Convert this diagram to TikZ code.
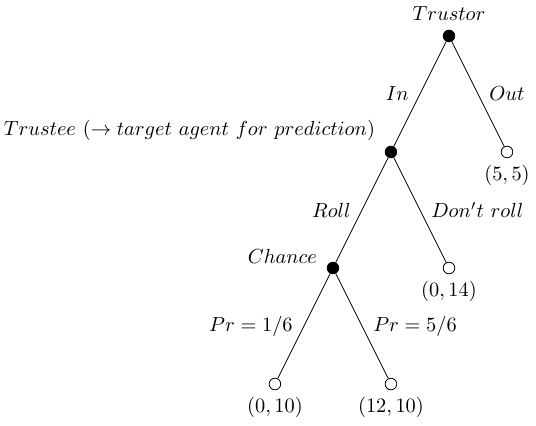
\documentclass[tikz,border=0pt]{standalone}
\begin{document}
\begin{tikzpicture}[x=1cm,y=1cm,
  decision/.style={draw, circle, fill=black, inner sep=0pt, minimum size=0.2cm},
  terminal/.style={draw, circle, fill=white, inner sep=0pt, minimum size=0.2cm},
  every label/.style={inner sep=1pt}]
\useasboundingbox (-7.74,0.62) rectangle (1.50,-6.72);
\node[decision, label={[yshift=3.5pt]above:$Trustor$}] (trustor) at (0,0) {};
\node[decision, label={[xshift=-4.5pt,yshift=2pt]above left:$Trustee\ (\rightarrow target\ agent\ for\ prediction)$}] (trustee) at (-1,-2) {};
\node[terminal, label={[yshift=-2pt]below:$(5,5)$}] (out) at (1,-2) {};
\node[decision, label={[xshift=-4.5pt,yshift=-1pt]above left:$Chance$}] (chance) at (-2,-4) {};
\node[terminal, label={[yshift=-2pt]below:$(0,14)$}] (noroll) at (0,-4) {};
\node[terminal, label={[yshift=-2pt]below:$(0,10)$}] (low) at (-3,-6) {};
\node[terminal, label={[yshift=-2pt]below:$(12,10)$}] (high) at (-1,-6) {};
\draw (trustor) -- node[left, xshift=-2pt] (in) {$In$} (trustee);
\draw (trustor) -- node[right, xshift=2pt] (outlab) {$Out$} (out);
\draw (trustee) -- node[left, xshift=-2pt] (roll) {$Roll$} (chance);
\draw (trustee) -- node[right, xshift=2pt] (dontroll) {$Don't\ roll$} (noroll);
\draw (chance) -- node[left, xshift=-2pt] (plow) {$Pr = 1/6$} (low);
\draw (chance) -- node[right, xshift=2pt] (phigh) {$Pr = 5/6$} (high);
\end{tikzpicture}
\end{document}
